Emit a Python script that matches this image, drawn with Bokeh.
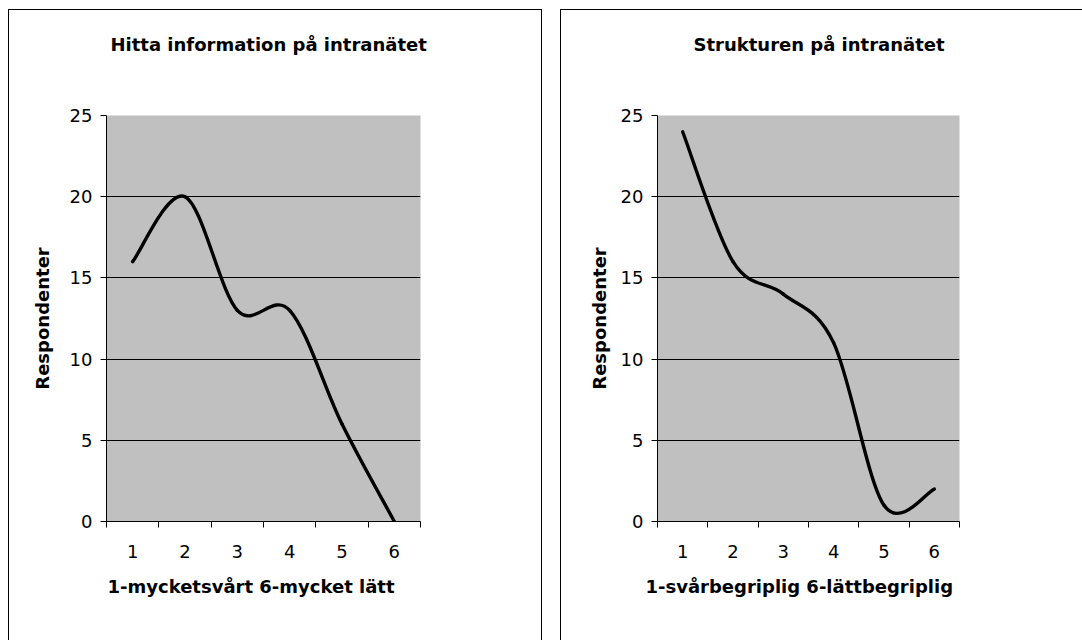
from bokeh.plotting import figure
from bokeh.models import FixedTicker, Title, Range1d, ColumnDataSource
from bokeh.layouts import row
from bokeh.embed import file_html
from bokeh.resources import INLINE

# ---- data -------------------------------------------------------------
categories = [1, 2, 3, 4, 5, 6]
category_labels = ["1", "2", "3", "4", "5", "6"]
hitta_values = [16, 20, 13, 13, 6, 0]
struktur_values = [24, 16, 14, 11, 1, 2]
y_ticks = [0, 5, 10, 15, 20, 25]
y_grid_ticks = [5, 10, 15, 20]
category_bounds = [0.5, 1.5, 2.5, 3.5, 4.5, 5.5, 6.5]

title_left = "Hitta information på intranätet"
title_right = "Strukturen på intranätet"
xlabel_left = "1-mycketsvårt  6-mycket lätt"
xlabel_right = "1-svårbegriplig  6-lättbegriplig"
ylabel = "Respondenter"

FONT = "DejaVu Sans"


def smooth_segments(xs, ys):
    """Bezier segments of a smoothed line (Catmull-Rom style) through the points."""
    n = len(xs)
    seg = dict(x0=[], y0=[], x1=[], y1=[], cx0=[], cy0=[], cx1=[], cy1=[])
    for i in range(n - 1):
        xp, yp = (xs[i - 1], ys[i - 1]) if i > 0 else (xs[i], ys[i])
        xn, yn = (xs[i + 2], ys[i + 2]) if i + 2 < n else (xs[i + 1], ys[i + 1])
        seg["x0"].append(xs[i])
        seg["y0"].append(ys[i])
        seg["x1"].append(xs[i + 1])
        seg["y1"].append(ys[i + 1])
        seg["cx0"].append(xs[i] + (xs[i + 1] - xp) / 6.0)
        seg["cy0"].append(ys[i] + (ys[i + 1] - yp) / 6.0)
        seg["cx1"].append(xs[i + 1] - (xn - xs[i]) / 6.0)
        seg["cy1"].append(ys[i + 1] - (yn - ys[i]) / 6.0)
    return seg


def make_panel(title, xlabel, values, width, border_left, border_right,
               title_offset, xlabel_offset, ylabel_standoff, styles, margin):
    p = figure(width=width, height=631,
               x_range=Range1d(0.5, 6.5), y_range=Range1d(0, 25),
               output_backend="svg", toolbar_location=None,
               min_border_left=border_left, min_border_right=border_right,
               min_border_top=105, min_border_bottom=120,
               background_fill_color="#C0C0C0", border_fill_color="white",
               outline_line_color=None)
    p.styles = styles
    p.margin = margin

    # title; the trailing blank lines lift it well above the plot area
    p.title.text = title + "\n\n"
    p.title.align = "left"
    p.title.offset = title_offset
    p.title.standoff = 37
    p.title.text_font = FONT
    p.title.text_font_size = "18px"
    p.title.text_font_style = "bold"
    p.title.text_color = "black"

    # x axis: labels at categories, tick marks between categories
    xa = p.xaxis[0]
    xa.ticker = FixedTicker(ticks=categories, minor_ticks=category_bounds)
    xa.major_label_overrides = {c: l for c, l in zip(categories, category_labels)}
    xa.major_tick_line_color = None
    xa.major_tick_out = 0
    xa.major_tick_in = 0
    xa.minor_tick_line_color = "black"
    xa.minor_tick_out = 6
    xa.minor_tick_in = 0
    xa.axis_line_color = "black"
    xa.major_label_standoff = 17
    xa.major_label_text_font = FONT
    xa.major_label_text_font_size = "18px"
    xa.major_label_text_color = "black"

    ya = p.yaxis[0]
    ya.ticker = FixedTicker(ticks=y_ticks)
    ya.minor_tick_line_color = None
    ya.major_tick_out = 6
    ya.major_tick_in = 0
    ya.axis_line_color = "black"
    ya.major_label_standoff = 8
    ya.major_label_text_font = FONT
    ya.major_label_text_font_size = "18px"
    ya.major_label_text_color = "black"
    ya.axis_label = ylabel
    ya.axis_label_text_font = FONT
    ya.axis_label_text_font_size = "18px"
    ya.axis_label_text_font_style = "bold"
    ya.axis_label_text_color = "black"
    ya.axis_label_standoff = ylabel_standoff

    p.xgrid.grid_line_color = None
    p.ygrid.ticker = FixedTicker(ticks=y_grid_ticks)
    p.ygrid.grid_line_color = "black"
    p.ygrid.grid_line_width = 1

    p.add_layout(Title(text=xlabel, align="left", offset=xlabel_offset,
                       standoff=27, text_font=FONT, text_font_size="18px",
                       text_font_style="bold", text_color="black"), "below")

    src = ColumnDataSource(smooth_segments(categories, values))
    p.bezier(x0="x0", y0="y0", x1="x1", y1="y1", cx0="cx0", cy0="cy0",
             cx1="cx1", cy1="cy1", source=src, line_color="black",
             line_width=3.4, line_cap="round")
    return p


p1 = make_panel(title_left, xlabel_left, hitta_values, 534, 97, 123, 4, 1, 14,
                {"border-top": "1px solid black", "border-left": "1px solid black",
                 "border-right": "1px solid black"}, (9, 0, 0, 8))
p2 = make_panel(title_right, xlabel_right, struktur_values, 522, 96, 124, 36, -12, 8,
                {"border-top": "1px solid black", "border-left": "1px solid black"},
                (9, 0, 0, 18))

layout = row(p1, p2)
open("out.html", "w").write(file_html(layout, INLINE))
